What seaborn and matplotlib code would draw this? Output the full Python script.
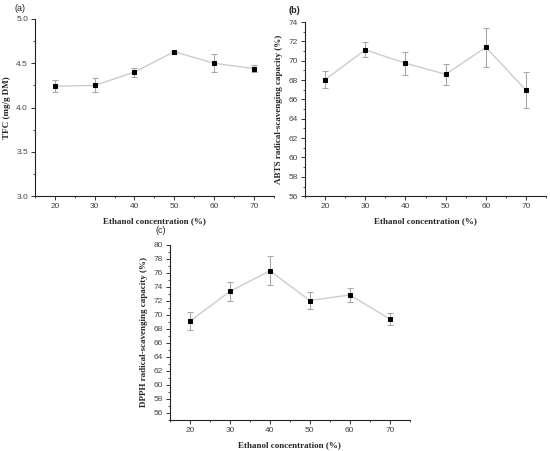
import matplotlib
matplotlib.use("Agg")
import matplotlib.pyplot as plt
from matplotlib.ticker import MultipleLocator
import seaborn as sns
import pandas as pd

ethanol = [20, 30, 40, 50, 60, 70]
tfc = [4.24, 4.25, 4.40, 4.63, 4.50, 4.44]
tfc_err = [0.07, 0.08, 0.05, 0.01, 0.10, 0.04]
abts = [68.05, 71.13, 69.75, 68.6, 71.4, 66.95]
abts_err = [0.9, 0.78, 1.2, 1.07, 2.0, 1.88]
dpph = [69.1, 73.35, 76.3, 72.05, 72.85, 69.4]
dpph_err = [1.3, 1.4, 2.1, 1.2, 1.0, 0.8]

xlabel = "Ethanol concentration (%)"
ylabels = ["TFC (mg/g DM)", "ABTS radical-scavenging capacity (%)",
           "DPPH radical-scavenging capacity (%)"]
panel_labels = ["(a)", "(b)", "(c)"]

sns.set_style("ticks")
plt.rcParams['font.family'] = ['Liberation Sans', 'DejaVu Sans']

fig = plt.figure(figsize=(5.5, 4.51), dpi=100)
rects = [
    [0.0636, 0.565, 0.434, 0.393],
    [0.5545, 0.565, 0.4385, 0.386],
    [0.309, 0.069, 0.436, 0.388],
]
series = [(tfc, tfc_err), (abts, abts_err), (dpph, dpph_err)]
ylims = [(3.0, 5.0), (56, 74), (55, 80)]
ymaj = [0.5, 2, 2]
ymin = [0.25, 1, 1]
ytick_start = [3.0, 56, 56]

for i, (rect, (vals, errs)) in enumerate(zip(rects, series)):
    ax = fig.add_axes(rect)
    df = pd.DataFrame({"x": ethanol, "y": vals})
    ax.errorbar(ethanol, vals, yerr=errs, fmt='none', ecolor='#a8a8a8',
                elinewidth=0.8, capsize=2, capthick=0.8, zorder=2)
    sns.lineplot(data=df, x="x", y="y", ax=ax, color='#cccccc', lw=1.0,
                 marker='s', markersize=3.2, markerfacecolor='black',
                 markeredgecolor='black', zorder=3)
    ax.set_xlim(15, 75)
    ax.set_ylim(*ylims[i])
    ax.xaxis.set_major_locator(MultipleLocator(10))
    ax.xaxis.set_minor_locator(MultipleLocator(5))
    ax.set_yticks([v for v in
                   [ytick_start[i] + k * ymaj[i] for k in range(20)]
                   if v <= ylims[i][1] + 1e-9])
    ax.yaxis.set_minor_locator(MultipleLocator(ymin[i]))
    if i == 0:
        ax.yaxis.set_major_formatter(plt.FormatStrFormatter('%.1f'))
    sns.despine(ax=ax)
    for s in ['left', 'bottom']:
        ax.spines[s].set_linewidth(0.8)
        ax.spines[s].set_color('#222222')
    ax.tick_params(axis='both', which='major', direction='out', length=3,
                   width=0.7, labelsize=6, pad=2, colors='#333333',
                   labelcolor='#444444')
    ax.tick_params(axis='both', which='minor', direction='out', length=1.5,
                   width=0.6, colors='#333333')
    ax.set_xlabel(xlabel, fontfamily='Liberation Serif', fontweight='bold',
                  fontsize=6.5, labelpad=5)
    ax.set_ylabel(ylabels[i], fontfamily='Liberation Serif', fontweight='bold',
                  fontsize=6.5, labelpad=4)

fig.text(0.027, 0.982, panel_labels[0], fontsize=6.5, ha='left', va='center')
fig.text(0.524, 0.977, panel_labels[1], fontsize=6.5, ha='left', va='center',
         fontweight='bold')
fig.text(0.283, 0.489, panel_labels[2], fontsize=6.5, ha='left', va='center')

fig.savefig("out.png", dpi=100)
